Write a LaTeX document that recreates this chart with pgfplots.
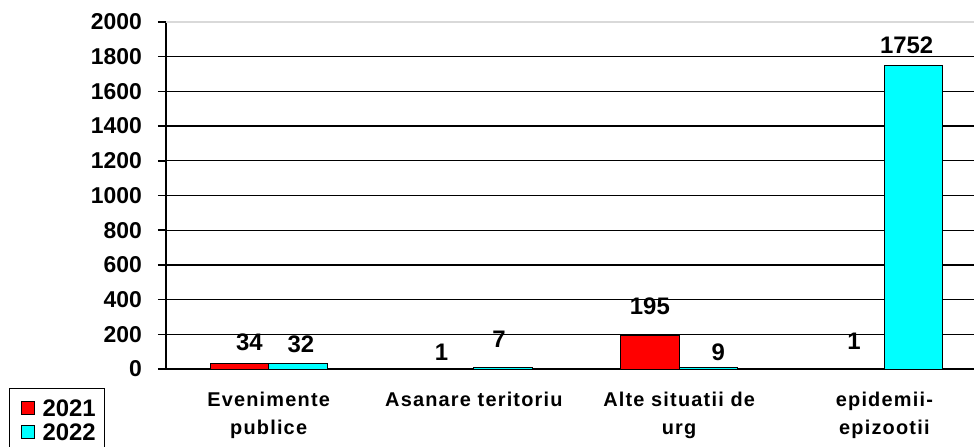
\documentclass[border=0pt]{standalone}
\usepackage{pgfplots}
\pgfplotsset{compat=1.18}
\usepackage{pgfplotstable}
\usepackage{fontspec}
\setmainfont{Liberation Sans}
\newfontfamily\catfont[LetterSpace=6]{Liberation Sans}
\definecolor{xred}{RGB}{255,0,0}
\definecolor{xcyan}{RGB}{0,255,255}
\pgfplotstableread{
x y off xs
0 34 20.6 10
1 1 17 -3
2 195 28.7 0
3 1 28 -1
}\redtab
\pgfplotstableread{
x y off xs
0 32 19.5 3
1 7 29 -4
2 9 15.4 10
3 1752 19.3 -7
}\cyantab
\begin{document}
\begin{tikzpicture}
\begin{axis}[
  at={(166bp,78bp)}, anchor=south west,
  scale only axis, width=821bp, height=347bp,
  xmin=-0.5, xmax=3.5, ymin=0, ymax=2000,
  axis x line*=bottom, axis y line*=left,
  axis line style={-, line width=1.5bp, black},
  ytick={0,200,...,1800},
  extra y ticks={2000},
  extra y tick style={grid style={line width=1.3bp, black!15}},
  ymajorgrids, grid style={line width=1.3bp, black},
  xtick={0,1,2,3},
  xticklabels={{Evenimente\\publice},{Asanare teritoriu},{Alte situatii de\\urg},{epidemii-\\epizootii}},
  x tick style={draw=none},
  extra x ticks={-0.5,0.5,1.5,2.5},
  extra x tick labels={},
  extra x tick style={grid=none, tick style={draw=black, line width=1.5bp}},
  tick align=outside, major tick length=8bp,
  y tick style={line width=1.5bp, black},
  /pgf/number format/1000 sep={},
  /pgf/number format/assume math mode=true,
  yticklabel style={font=\bfseries\fontsize{23}{23}\selectfont, inner sep=0pt, xshift=-16bp},
  xticklabel style={font=\bfseries\catfont\fontsize{20}{28}\selectfont, align=center, inner sep=0pt, anchor=north, yshift=-15bp},
  ybar, bar width=0.285,
  legend style={at={(-0.1912,-0.0548)}, anchor=north west, draw=black, line width=1bp,
    font=\bfseries\fontsize{24}{24}\selectfont, inner xsep=9bp, inner ysep=11bp,
    nodes={inner sep=0pt, text height=17.3bp, text depth=0bp}, row sep=6.7bp, column sep=0pt},
  legend cell align=left,
  sqleg/.style={legend image code/.code={\path[draw=none, fill=none] (-3bp,0) -- (21bp,0);\draw[##1, line width=1bp] (0bp,-6.5bp) rectangle (13bp,6.5bp);}},
  nodes near coords,
  visualization depends on={\thisrow{off} \as \off},
  visualization depends on={\thisrow{xs} \as \xs},
  every node near coord/.append style={anchor=center, yshift=\off bp, xshift=\xs bp,
    font=\bfseries\fontsize{24}{24}\selectfont, black, /pgf/number format/assume math mode=true},
]
\addplot[fill=xred, draw=black, line width=1bp, bar shift=-0.1425, sqleg] table[x=x,y=y] {\redtab};
\addlegendentry{2021}
\addplot[fill=xcyan, draw=black, line width=1bp, bar shift=0.1425, sqleg] table[x=x,y=y] {\cyantab};
\addlegendentry{2022}
\end{axis}
\pgfresetboundingbox
\path[use as bounding box] (0,0) rectangle (974bp,447bp);
\end{tikzpicture}
\end{document}
